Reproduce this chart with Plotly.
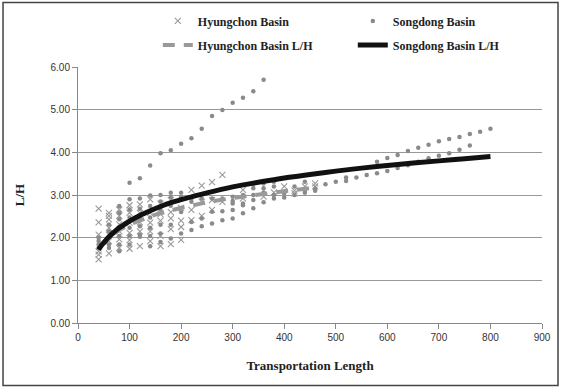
import plotly.graph_objects as go

# ---- Data ----
hy_x = [40, 40, 40, 40, 40, 40,
        60, 60, 60, 60, 60, 60, 60,
        80, 80, 80, 80, 80, 80,
        100, 100, 100, 100, 100, 100,
        120, 120, 120, 120, 120,
        140, 140, 140, 140, 140,
        160, 160, 160, 160, 160,
        180, 180, 180, 180, 180,
        200, 200, 200, 200,
        220, 220, 220,
        240, 240, 240,
        260, 260, 260,
        280, 280,
        320, 320,
        360, 380, 400, 420, 420, 440, 460, 460]
hy_y = [2.68, 2.36, 2.07, 1.68, 1.60, 1.49,
        2.58, 2.51, 2.43, 2.23, 2.07, 1.92, 1.63,
        2.66, 2.51, 2.31, 2.15, 1.96, 1.76,
        2.76, 2.58, 2.35, 2.11, 1.94, 1.74,
        2.78, 2.58, 2.36, 2.15, 1.80,
        2.90, 2.58, 2.35, 2.15, 1.92,
        2.80, 2.55, 2.40, 2.04, 1.80,
        2.88, 2.60, 2.45, 2.20, 1.85,
        2.70, 2.40, 2.25, 1.95,
        3.12, 2.65, 2.41,
        3.22, 2.84, 2.51,
        3.30, 2.88, 2.65,
        3.47, 2.84,
        3.12, 2.92,
        2.96, 3.06, 3.20, 3.10, 3.04, 3.20, 3.27, 3.20]

sd_x = [40, 40, 40, 40,
        60, 60, 60, 60, 60,
        80, 80, 80, 80, 80, 80, 80,
        100, 100, 100, 100, 100, 100, 100,
        120, 120, 120, 120, 120, 120, 120,
        140, 140, 140, 140, 140, 140, 140,
        160, 160, 160, 160, 160, 160, 160,
        180, 180, 180, 180, 180, 180,
        200, 200, 200, 200, 200,
        220, 220, 220, 220, 220,
        240, 240, 240, 240,
        260, 260, 260, 260,
        280, 280, 280, 280,
        300, 300, 300, 300, 300, 300,
        320, 320, 320, 320, 320,
        340, 340, 340, 340, 340, 340,
        360, 360, 360, 360, 360,
        380, 380, 380, 380,
        400, 400, 400,
        420, 420,
        440, 440, 440, 440,
        460, 460,
        480, 500, 520, 520, 540, 560,
        580, 580, 600, 600, 620, 620, 640, 640, 660, 660,
        680, 680, 700, 700, 720, 720, 740, 740, 760, 760,
        780, 800]
sd_y = [2.00, 1.92, 1.84, 1.76,
        2.31, 2.15, 2.00, 1.84, 1.76,
        2.74, 2.58, 2.43, 2.23, 2.04, 1.84, 1.68,
        3.29, 2.90, 2.66, 2.47, 2.23, 2.04, 1.84,
        3.39, 2.92, 2.68, 2.47, 2.27, 2.07, 2.02,
        3.69, 2.99, 2.74, 2.47, 2.23, 2.04, 1.80,
        3.98, 3.00, 2.85, 2.65, 2.30, 2.10, 1.90,
        4.05, 3.05, 2.95, 2.75, 2.30, 1.98,
        4.20, 3.05, 2.95, 2.60, 2.10,
        4.33, 2.92, 2.84, 2.37, 2.18,
        4.55, 2.92, 2.45, 2.27,
        4.85, 2.92, 2.61, 2.33,
        4.99, 2.92, 2.62, 2.41,
        5.16, 2.96, 2.86, 2.80, 2.65, 2.45,
        5.28, 3.00, 2.80, 2.76, 2.57,
        5.43, 3.24, 3.16, 3.00, 2.88, 2.69,
        5.70, 3.27, 3.16, 3.06, 2.83,
        3.31, 3.20, 3.00, 2.92,
        3.08, 3.04, 2.94,
        3.20, 3.00,
        3.31, 3.12, 3.10, 3.05,
        3.15, 3.10,
        3.25, 3.31, 3.41, 3.33, 3.41, 3.47,
        3.51, 3.78, 3.56, 3.87, 3.63, 3.94, 3.70, 4.03, 3.78, 4.11,
        3.86, 4.18, 3.92, 4.26, 3.98, 4.31, 4.06, 4.36, 4.16, 4.43,
        4.48, 4.55]

hy_fit_x = [40, 50, 60, 70, 80, 100, 120, 150, 200, 250, 300, 350, 400, 450]
hy_fit_y = [1.79, 1.91, 2.02, 2.10, 2.18, 2.31, 2.41, 2.54, 2.70, 2.83, 2.93, 3.02, 3.09, 3.16]

sd_fit_x = [40, 45, 50, 60, 70, 80, 90, 100, 120, 140, 160, 180, 200, 250, 300,
            350, 400, 450, 500, 550, 600, 650, 700, 750, 800]
sd_fit_y = [1.72, 1.81, 1.88, 2.02, 2.13, 2.23, 2.31, 2.39, 2.52, 2.63, 2.73, 2.82, 2.89, 3.05, 3.19,
            3.30, 3.40, 3.48, 3.56, 3.63, 3.69, 3.75, 3.80, 3.85, 3.90]

x_ticks = [0, 100, 200, 300, 400, 500, 600, 700, 800, 900]
y_ticks = [0, 1, 2, 3, 4, 5, 6]

SERIF = "Liberation Serif, Times New Roman, serif"
SANS = "Liberation Sans, Arial, sans-serif"

fig = go.Figure()
fig.add_trace(go.Scatter(
    x=hy_x, y=hy_y, mode="markers", name="Hyungchon Basin",
    marker=dict(symbol="x-thin-open", size=6, color="#9a9a9a",
                line=dict(width=1.1, color="#9a9a9a")),
    legend="legend"))
fig.add_trace(go.Scatter(
    x=sd_x, y=sd_y, mode="markers", name="Songdong Basin",
    marker=dict(symbol="circle", size=4.5, color="#8a8a8a"),
    legend="legend"))
fig.add_trace(go.Scatter(
    x=hy_fit_x, y=hy_fit_y, mode="lines", name="Hyungchon Basin L/H",
    line=dict(color="#999999", width=4, dash="12px,9px"),
    legend="legend2"))
fig.add_trace(go.Scatter(
    x=sd_fit_x, y=sd_fit_y, mode="lines", name="Songdong Basin L/H",
    line=dict(color="#111111", width=5, shape="spline"),
    legend="legend2"))

legend_common = dict(orientation="h", xref="paper", yref="paper",
                     xanchor="left", yanchor="middle",
                     font=dict(family=SERIF, size=12, color="#222", weight="bold"),
                     bgcolor="rgba(0,0,0,0)", entrywidth=150,
                     itemwidth=30, tracegroupgap=0)

fig.update_layout(
    width=561, height=387,
    margin=dict(l=78, r=19, t=67, b=64, autoexpand=False),
    paper_bgcolor="white", plot_bgcolor="white",
    showlegend=True,
    legend=dict(x=0.172, y=1.18, **legend_common),
    legend2=dict(x=0.172, y=1.086, **legend_common),
    xaxis=dict(range=[0, 900], tickvals=x_ticks, ticks="outside", ticklen=5,
               tickcolor="#888", showline=True, linecolor="#888", linewidth=1,
               showgrid=False, zeroline=False, automargin=False,
               tickfont=dict(family=SANS, size=10, color="#333"),
               title=dict(text="<b>Transportation Length</b>", standoff=18,
                          font=dict(family=SERIF, size=13, color="#222"))),
    yaxis=dict(range=[0, 6], tickvals=y_ticks, tickformat=".2f", ticks="outside",
               ticklen=5, tickcolor="#888", showline=True, linecolor="#888",
               linewidth=1, showgrid=True, gridcolor="#999", gridwidth=1,
               zeroline=False, automargin=False,
               tickfont=dict(family=SANS, size=10, color="#333"),
               title=dict(text="<b>L/H</b>", standoff=22,
                          font=dict(family=SERIF, size=13, color="#222"))),
    shapes=[dict(type="rect", xref="paper", yref="paper",
                 x0=-0.1616, x1=1.0345, y0=-0.244, y1=1.252,
                 line=dict(color="#444", width=1.5), fillcolor="rgba(0,0,0,0)",
                 layer="below")],
)

fig.write_html("out.html")
